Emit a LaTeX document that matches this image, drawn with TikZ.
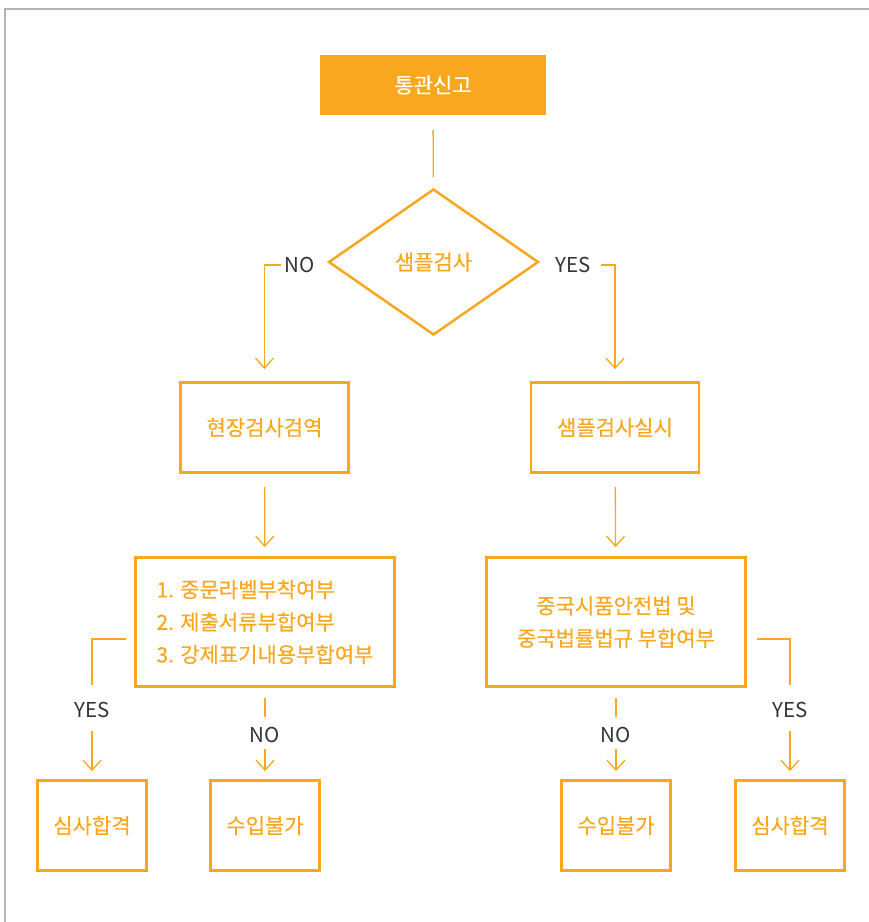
\documentclass[tikz,border=0pt]{standalone}
\usepackage{fontspec}
\setmainfont{Noto Sans CJK KR}[FakeBold=0.4]
\usetikzlibrary{shapes.geometric,arrows.meta}
\definecolor{org}{HTML}{F8A71F}
\definecolor{lbl}{HTML}{333333}
\definecolor{frm}{HTML}{B4B4B4}
\tikzset{
  every node/.style={font=\fontsize{21}{32.5}\selectfont},
  boxnode/.style={draw=org, line width=2.8pt, text=org, inner sep=0pt, align=center},
  lab/.style={text=lbl, inner sep=0pt, font=\fontsize{20.5}{24}\fontspec{Noto Sans CJK KR}},
  conn/.style={draw=org, line width=1.3pt},
  arr/.style={conn, -{Straight Barb[length=10pt,width=18pt,line width=1.3pt]}},
}
\begin{document}
\begin{tikzpicture}[x=1pt,y=-1pt]
\useasboundingbox (0,0) rectangle (869,922);
\draw[frm, line width=1.5pt] (5,922) -- (5,9) -- (869,9);

\node[fill=org, text=white, minimum width=226pt, minimum height=60pt, inner sep=0pt] (top) at (433,85) {통관신고};
\node[diamond, draw=org, line width=2.5pt, text=org, minimum width=210pt, minimum height=146pt, inner sep=0pt] (dia) at (433.5,262) {샘플검사};

\node[lab] (noT) at (300,265) {NO};
\node[lab] (yesT) at (573,265) {YES};

\node[boxnode, minimum width=168pt, minimum height=90pt] (b1) at (264.5,427.5) {현장검사검역};
\node[boxnode, minimum width=168pt, minimum height=90pt] (b2) at (615,427.5) {샘플검사실시};

\node[boxnode, minimum width=259pt, minimum height=129pt, align=left] (b3) at (265,622) {1. 중문라벨부착여부\\2. 제출서류부합여부\\3. 강제표기내용부합여부};
\node[boxnode, minimum width=259pt, minimum height=129pt] (b4) at (616,622) {중국시품안전법 및\\중국법률법규 부합여부};

\node[lab] (yesL) at (92,710) {YES};
\node[lab] (noL) at (265,735) {NO};
\node[lab] (noR) at (616,735) {NO};
\node[lab] (yesR) at (790,710) {YES};

\node[boxnode, minimum width=109pt, minimum height=90pt] (b5) at (92,825.5) {심사합격};
\node[boxnode, minimum width=109pt, minimum height=90pt] (b6) at (265,825.5) {수입불가};
\node[boxnode, minimum width=109pt, minimum height=90pt] (b7) at (616,825.5) {수입불가};
\node[boxnode, minimum width=109pt, minimum height=90pt] (b8) at (790,825.5) {심사합격};

% connectors
\draw[conn, shorten <=15pt, shorten >=11pt] (top) -- (dia);
\draw[arr, shorten <=4pt, shorten >=12pt] (noT.west) -| (b1.north);
\draw[arr, shorten <=10pt, shorten >=12pt] (yesT.east) -| (b2.north);
\draw[arr, shorten <=13pt, shorten >=9pt] (b1) -- (b3);
\draw[arr, shorten <=13pt, shorten >=9pt] (b2) -- (b4);

\draw[conn, shorten <=8pt, shorten >=17pt] ([yshift=-17pt]b3.west) -| (yesL.north);
\draw[arr, shorten <=13pt, shorten >=8pt] (yesL.south) -- (b5.north);
\draw[conn, shorten <=10pt, shorten >=10pt] (b3.south) -- (noL.north);
\draw[arr, shorten <=6pt, shorten >=8pt] (noL.south) -- (b6.north);

\draw[conn, shorten <=10pt, shorten >=10pt] (b4.south) -- (noR.north);
\draw[arr, shorten <=6pt, shorten >=8pt] (noR.south) -- (b7.north);
\draw[conn, shorten <=10pt, shorten >=17pt] ([yshift=-17pt]b4.east) -| (yesR.north);
\draw[arr, shorten <=13pt, shorten >=8pt] (yesR.south) -- (b8.north);
\end{tikzpicture}
\end{document}
